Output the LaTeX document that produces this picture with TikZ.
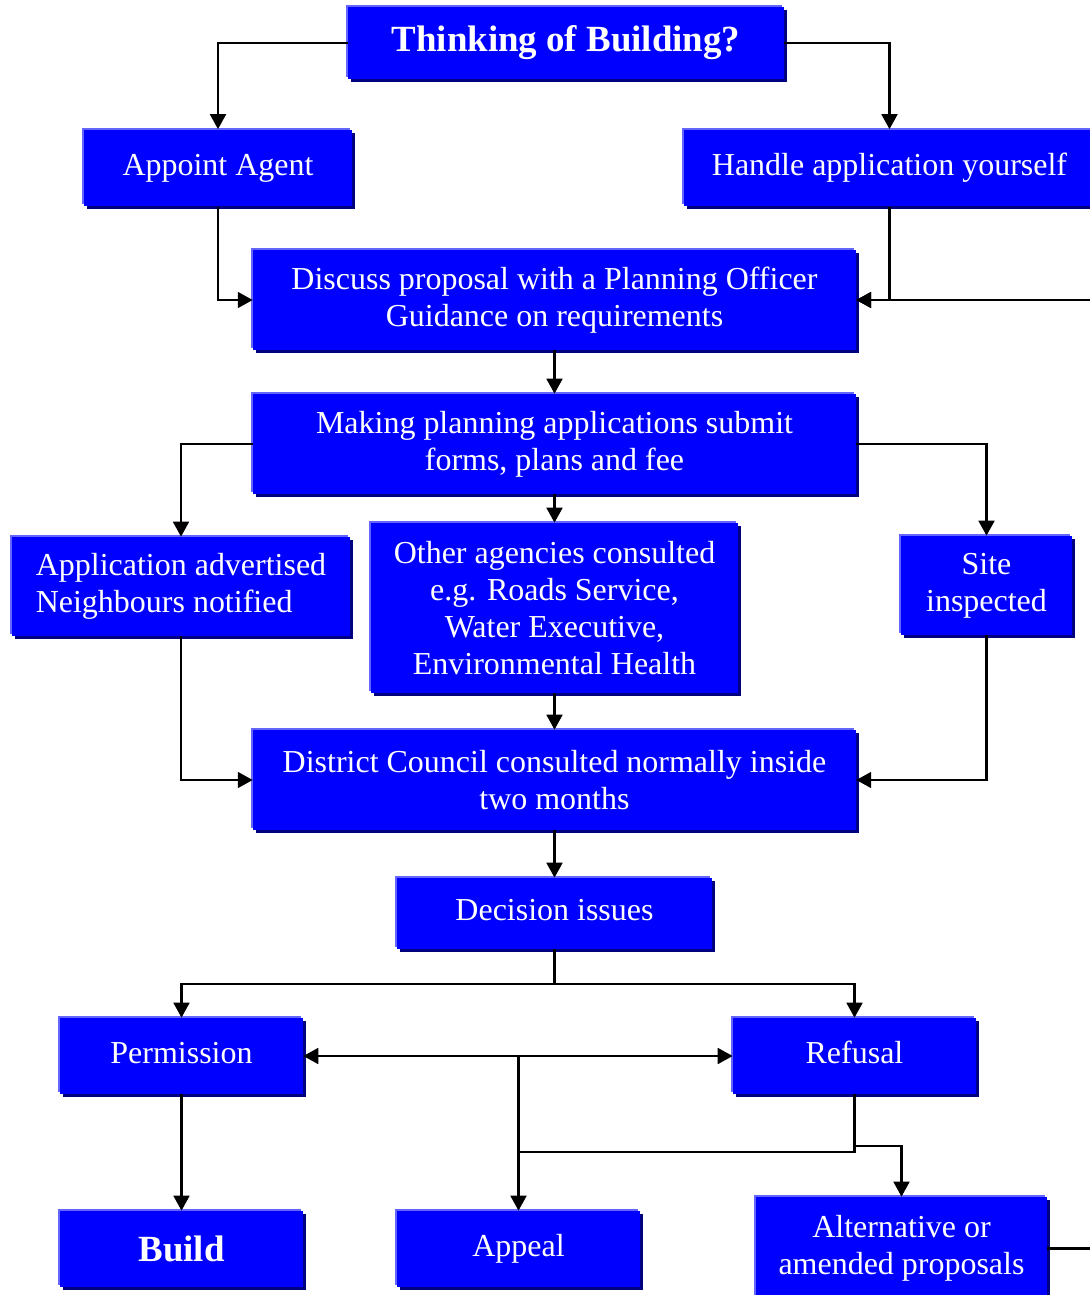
\documentclass[tikz,border=0pt]{standalone}
\usepackage{fontspec}
\setmainfont{Liberation Serif}
\usetikzlibrary{arrows.meta,shadows}

\definecolor{boxblue}{RGB}{0,0,255}
\definecolor{boxlight}{RGB}{100,100,255}
\definecolor{boxdark}{RGB}{0,0,128}

\tikzset{
  stage/.style={fill=boxblue, text=white, align=center, inner sep=0pt,
    font=\fontsize{18.2}{21}\selectfont,
    general shadow={fill=boxlight, shadow xshift=-0.04cm, shadow yshift=0.04cm},
    general shadow={fill=boxdark, shadow xshift=0.06cm, shadow yshift=-0.06cm}},
  bigstage/.style={stage, font=\bfseries\fontsize{21}{25}\selectfont},
  lift/.style={text depth=0.4em},
  link/.style={line width=1.3pt, -{Triangle[length=8.5pt,width=9pt]}},
  plainlink/.style={line width=1.3pt}
}

\begin{document}
\begin{tikzpicture}[x=0.02cm, y=-0.02cm]
\useasboundingbox (0,0) rectangle (1089,1295);

% Boxes
\node[bigstage, minimum width=8.72cm, minimum height=1.46cm] (think) at (566,43) {Thinking of Building?};
\node[stage, lift, minimum width=5.36cm, minimum height=1.54cm] (agent) at (218,168) {Appoint Agent};
\node[stage, lift, minimum width=8.22cm, minimum height=1.54cm] (self) at (889.5,168) {Handle application yourself};
\node[stage, minimum width=12.06cm, minimum height=2.0cm] (discuss) at (554.5,300) {Discuss proposal with a Planning Officer\\Guidance on requirements};
\node[stage, minimum width=12.06cm, minimum height=2.0cm] (making) at (554.5,444) {Making planning applications submit\\forms, plans and fee};
\node[stage, align=left, minimum width=6.76cm, minimum height=1.98cm] (advert) at (181,586.5) {Application advertised\\Neighbours notified};
\node[stage, minimum width=7.36cm, minimum height=3.4cm] (agencies) at (554.5,608) {Other agencies consulted\\e.g. Roads Service,\\Water Executive,\\Environmental Health};
\node[stage, minimum width=3.42cm, minimum height=1.98cm] (site) at (986.5,585.5) {Site\\inspected};
\node[stage, minimum width=12.06cm, minimum height=2.0cm] (council) at (554.5,780) {District Council consulted normally inside\\two months};
\node[stage, lift, minimum width=6.3cm, minimum height=1.42cm] (decision) at (554.5,913.5) {Decision issues};
\node[stage, lift, minimum width=4.86cm, minimum height=1.52cm] (permit) at (181.5,1056) {Permission};
\node[stage, lift, minimum width=4.86cm, minimum height=1.52cm] (refuse) at (854.5,1056) {Refusal};
\node[bigstage, minimum width=4.86cm, minimum height=1.52cm] (build) at (181.5,1249) {Build};
\node[stage, lift, minimum width=4.86cm, minimum height=1.52cm] (appeal) at (518.5,1249) {Appeal};
\node[stage, minimum width=5.82cm, minimum height=2.06cm] (alt) at (901.5,1248.5) {Alternative or\\amended proposals};

% Connectors
\draw[link] (think.west) -| (agent.north);
\draw[link] (think.east) -| (self.north);
\draw[link] (agent.south) |- (discuss.west);
\draw[link] (self.south) |- (discuss.east);
\draw[link] (alt.east) -- ++(60,0) |- (discuss.east);
\draw[link] (discuss.south) -- (making.north);
\draw[link] (making.west) -| (advert.north);
\draw[link] (making.south) -- (agencies.north);
\draw[link] (making.east) -| (site.north);
\draw[link] (advert.south) |- (council.west);
\draw[link] (agencies.south) -- (council.north);
\draw[link] (site.south) |- (council.east);
\draw[link] (council.south) -- (decision.north);

\coordinate (split) at (554.5,984);
\draw[plainlink] (decision.south) -- (split);
\draw[link] (split) -| (permit.north);
\draw[link] (split) -| (refuse.north);

\coordinate (hub) at (518.5,1056);
\draw[link] (hub) -- (permit.east);
\draw[link] (hub) -- (refuse.west);
\draw[link] (hub) -- (appeal.north);

\coordinate (join) at (518.5,1152);
\coordinate (knee) at (854.5,1146);
\draw[plainlink] (refuse.south) |- (join);
\draw[link] (knee) -| (alt.north);
\draw[link] (permit.south) -- (build.north);
\end{tikzpicture}
\end{document}
